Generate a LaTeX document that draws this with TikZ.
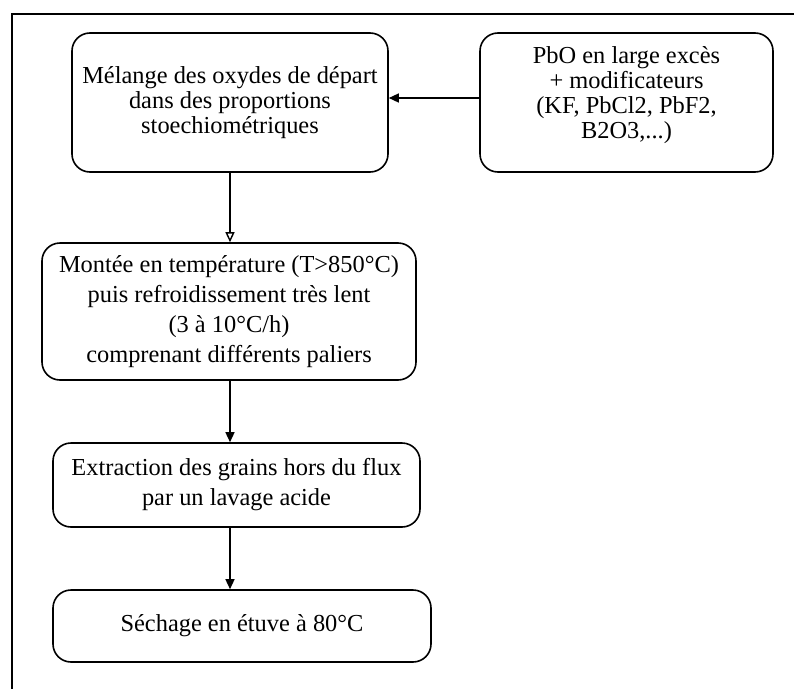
\documentclass[tikz,border=0pt]{standalone}
\usepackage{fontspec}
\setmainfont{Liberation Serif}
\usetikzlibrary{arrows.meta}
\begin{document}
\begin{tikzpicture}[x=1pt,y=-1pt,
  stepbox/.style={draw, line width=1.6pt, rounded corners=18pt, align=center, inner sep=0pt,
    font=\fontsize{24.4}{25}\selectfont},
  wide/.style={font=\fontsize{24.4}{30}\selectfont},
  conn/.style={line width=1.4pt, -{Triangle[length=10pt,width=9pt]}},
  openconn/.style={line width=1.4pt, -{Triangle[open,length=10pt,width=9pt]}}]
\useasboundingbox (0,0) rectangle (794,688);
\begin{scope}
\clip (0,0) rectangle (794,688);
\draw[line width=1.6pt] (12,14) rectangle (820,720);
\end{scope}
\node[stepbox, minimum width=316pt, minimum height=139pt] (b1) at (230,102.5)
  {Mélange des oxydes de départ\\dans des proportions\\stoechiométriques};
\node[stepbox, minimum width=293pt, minimum height=139pt] (b2) at (626.5,102.5) {};
\node[align=center, inner sep=0pt, font=\fontsize{24.4}{25}\selectfont] (t2) at (626.5,95)
  {PbO en large excès\\+ modificateurs\\(KF, PbCl2, PbF2,\\B2O3,...)};
\coordinate (a2) at (b2.west |- 0,98);
\node[stepbox, wide, minimum width=374pt, minimum height=137pt] (b3) at (229,311.5)
  {Montée en température (T>850°C)\\puis refroidissement très lent\\(3 à 10°C/h)\\comprenant différents paliers};
\node[stepbox, wide, minimum width=367pt, minimum height=84pt] (b4) at (236.5,485)
  {Extraction des grains hors du flux\\par un lavage acide};
\node[stepbox, minimum width=378pt, minimum height=72pt] (b5) at (242,626)
  {Séchage en étuve à 80°C};
\draw[conn] (a2) -- (a2 -| b1.east);
\draw[openconn] (b1.south) -- (b1.south |- b3.north);
\draw[conn] (b1.south |- b3.south) -- (b1.south |- b4.north);
\draw[conn] (b1.south |- b4.south) -- (b1.south |- b5.north);
\end{tikzpicture}
\end{document}
